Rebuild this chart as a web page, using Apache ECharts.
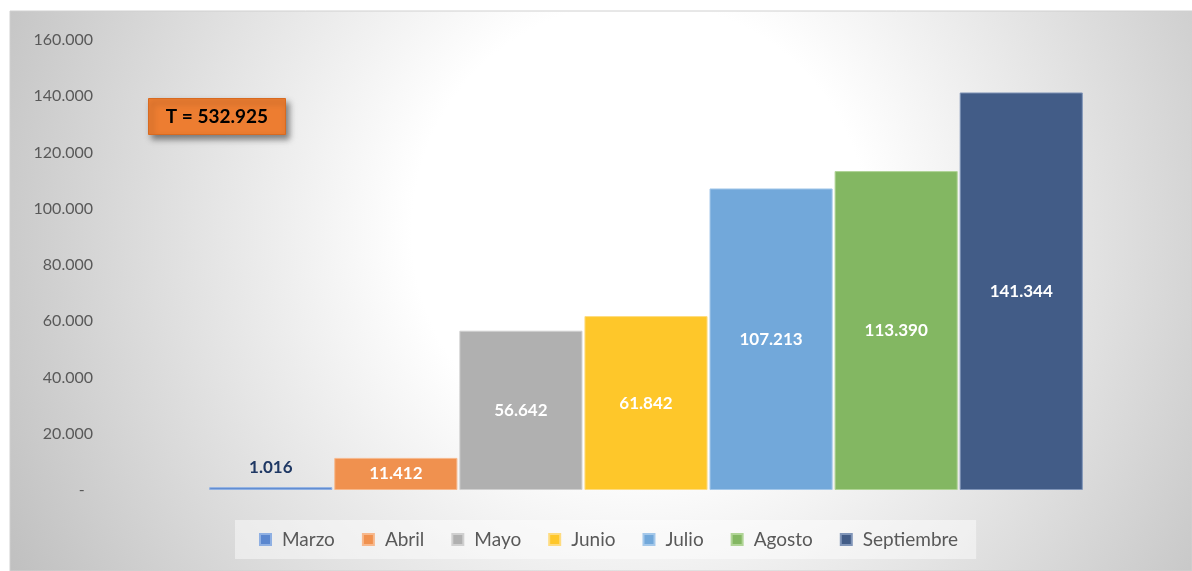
<!DOCTYPE html>
<html>
<head>
<meta charset="utf-8">
<script src="https://cdn.jsdelivr.net/npm/echarts@6/dist/echarts.min.js"></script>
<style>
html,body{margin:0;padding:0;background:#fff;}
#c{width:1192px;height:571px;}
</style>
</head>
<body>
<div id="c"></div>
<script>
const categories = ['Total'];
const seriesNames = ['Marzo', 'Abril', 'Mayo', 'Junio', 'Julio', 'Agosto', 'Septiembre'];
const seriesValues = [1016, 11412, 56642, 61842, 107213, 113390, 141344];
const seriesColors = ['#5b87cf', '#f0914f', '#b0b0b0', '#fec72a', '#72a8da', '#83b762', '#425c87'];
const borderColors = ['#8fb0e3', '#f7b88c', '#d0d0d0', '#fedc80', '#a4c8ea', '#b0d496', '#8095b8'];
const totalLabel = 'T = 532.925';
const yTicks = { min: 0, max: 160000, interval: 20000 };

function fmt(v) {
  if (v === 0) return '-  ';
  return String(Math.round(v)).replace(/\B(?=(\d{3})+(?!\d))/g, '.');
}

const chart = echarts.init(document.getElementById('c'), null, { renderer: 'canvas' });

const series = seriesNames.map((name, i) => ({
  name: name,
  type: 'bar',
  data: [seriesValues[i]],
  barGap: '1.6%',
  barCategoryGap: '20%',
  itemStyle: { color: seriesColors[i], borderColor: borderColors[i], borderWidth: 1 },
  label: {
    show: true,
    position: i === 0 ? 'top' : 'inside',
    distance: 11,
    formatter: p => fmt(p.value),
    color: i === 0 ? '#1f3864' : '#ffffff',
    fontFamily: 'Lato',
    fontWeight: 'bold',
    fontSize: 17
  }
}));

chart.setOption({
  animation: false,
  backgroundColor: 'transparent',
  textStyle: { fontFamily: 'Lato' },
  graphic: [
    {
      type: 'rect', z: -10, silent: true,
      shape: { x: 10, y: 11, width: 1182, height: 560 },
      style: {
        fill: {
          type: 'radial', x: 640, y: 230, r: 760, global: true,
          colorStops: [
            { offset: 0, color: '#ffffff' },
            { offset: 0.3, color: '#ffffff' },
            { offset: 1, color: '#bababa' }
          ]
        },
        stroke: '#d0d0d0', lineWidth: 1
      }
    },
    {
      type: 'group', left: 148, top: 98, z: 20,
      children: [
        {
          type: 'rect',
          shape: { x: 0, y: 0, width: 137, height: 36 },
          style: {
            fill: '#ed7d31', stroke: '#d86a20', lineWidth: 1,
            shadowBlur: 6, shadowOffsetX: 3, shadowOffsetY: 4, shadowColor: 'rgba(0,0,0,0.45)'
          }
        },
        {
          type: 'text',
          x: 68.5, y: 18,
          style: {
            text: totalLabel, fill: '#000000', font: 'bold 19px Lato',
            align: 'center', verticalAlign: 'middle'
          }
        }
      ]
    }
  ],
  grid: { left: 100, right: 0, top: 40, bottom: 81, containLabel: false },
  legend: {
    data: seriesNames,
    left: 235, top: 520,
    padding: [10, 18, 10, 24],
    backgroundColor: 'rgba(255,255,255,0.45)',
    icon: 'rect', itemWidth: 11, itemHeight: 11, itemGap: 27,
    textStyle: { fontFamily: 'Lato', fontSize: 19, color: '#595959', padding: [0, 0, 0, 6] }
  },
  xAxis: {
    type: 'category', data: categories,
    axisLine: { show: false }, axisTick: { show: false }, axisLabel: { show: false },
    splitLine: { show: false }
  },
  yAxis: {
    type: 'value', min: yTicks.min, max: yTicks.max, interval: yTicks.interval,
    axisLine: { show: false }, axisTick: { show: false }, splitLine: { show: false },
    axisLabel: { formatter: fmt, color: '#595959', fontFamily: 'Lato', fontSize: 16, margin: 7 }
  },
  series: series
});
</script>
</body>
</html>
